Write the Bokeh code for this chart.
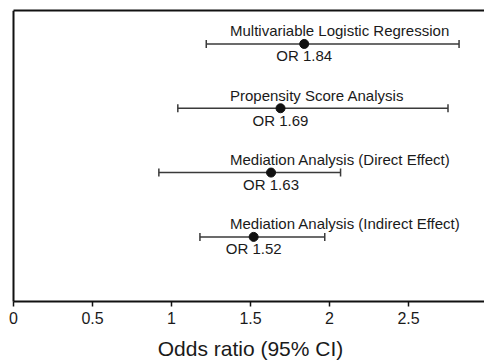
from bokeh.plotting import figure
from bokeh.models import ColumnDataSource, FixedTicker, LinearAxis, Range1d
from bokeh.core.properties import value
from bokeh.embed import file_html
from bokeh.resources import INLINE

methods = ["Multivariable Logistic Regression", "Propensity Score Analysis",
           "Mediation Analysis (Direct Effect)", "Mediation Analysis (Indirect Effect)"]
odds_ratio = [1.84, 1.69, 1.63, 1.52]
ci_low = [1.22, 1.04, 0.92, 1.18]
ci_high = [2.82, 2.75, 2.07, 1.97]
rows = [4, 3, 2, 1]
x_ticks = [0, 0.5, 1, 1.5, 2, 2.5, 3]
x_label = "Odds ratio (95% CI)"

FONT = "Liberation Sans"
TXT = "#1a1a1a"
LINE = "#3a3a3a"
LABEL_X = 1.37
X_PX = 158.0     # pixels per unit on x
Y_PX = 64.0      # pixels per row
W, H = 484, 361
LEFT_BORDER, LEFT_PAD, TOP = 4, 9, 10
BELOW_AXIS = 60  # pixels from the x axis down to the page bottom
Y_TOP = 4.52
X_START = -LEFT_PAD / X_PX
X_END = X_START + (W - LEFT_BORDER) / X_PX

src = ColumnDataSource(dict(
    method=methods, orv=odds_ratio, lo=ci_low, hi=ci_high, row=rows,
    ortxt=["OR %.2f" % v for v in odds_ratio],
    lx=[LABEL_X] * len(methods),
))

p = figure(width=W, height=H, output_backend="svg", toolbar_location=None,
           x_range=Range1d(X_START, X_END),
           y_range=Range1d(-BELOW_AXIS / Y_PX, Y_TOP),
           min_border_left=LEFT_BORDER, min_border_right=0, min_border_top=TOP,
           min_border_bottom=0)
p.outline_line_color = None
p.xgrid.visible = False
p.ygrid.visible = False

p.segment(x0="lo", y0="row", x1="hi", y1="row", source=src, line_color=LINE, line_width=1.5)
p.scatter(x="lo", y="row", source=src, marker="dash", angle=1.5708, size=8,
          line_color=LINE, line_width=1.5)
p.scatter(x="hi", y="row", source=src, marker="dash", angle=1.5708, size=8,
          line_color=LINE, line_width=1.5)
p.scatter(x="orv", y="row", source=src, marker="circle", size=9,
          fill_color="#111111", line_color="#111111")

p.text(x="lx", y="row", text="method", source=src, y_offset=-13,
       text_font=value(FONT), text_font_size="15px", text_color=TXT,
       text_align="left", text_baseline="middle")
p.text(x="orv", y="row", text="ortxt", source=src, y_offset=12,
       text_font=value(FONT), text_font_size="15px", text_color=TXT,
       text_align="center", text_baseline="middle")

# axis title, centred under the 0-3 scale
p.text(x=[(x_ticks[0] + x_ticks[-1]) / 2], y=[0], text=[x_label], y_offset=47,
       text_font=value(FONT), text_font_size="21px", text_color=TXT,
       text_align="center", text_baseline="alphabetic")

xa = p.xaxis[0]
xa.fixed_location = 0
xa.bounds = (0, X_END)
xa.ticker = FixedTicker(ticks=x_ticks)
xa.minor_tick_line_color = None
xa.major_tick_in = 0
xa.major_tick_out = 5
xa.major_tick_line_width = 1.5
xa.axis_line_width = 2
xa.axis_line_color = "#111111"
xa.major_tick_line_color = "#111111"
xa.major_label_text_font = FONT
xa.major_label_text_font_size = "16px"
xa.major_label_text_color = TXT
xa.major_label_standoff = 6

ya = p.yaxis[0]
ya.fixed_location = 0
ya.ticker = FixedTicker(ticks=[])
ya.bounds = (0, Y_TOP)
ya.major_tick_line_color = None
ya.minor_tick_line_color = None
ya.major_label_text_font_size = "0px"
ya.axis_line_width = 2
ya.axis_line_color = "#111111"

top = LinearAxis(ticker=FixedTicker(ticks=[]), bounds=(0, X_END),
                 major_tick_line_color=None,
                 minor_tick_line_color=None, major_label_text_font_size="0px",
                 axis_line_width=2, axis_line_color="#111111")
p.add_layout(top, "above")

open("out.html", "w").write(file_html(p, INLINE))
